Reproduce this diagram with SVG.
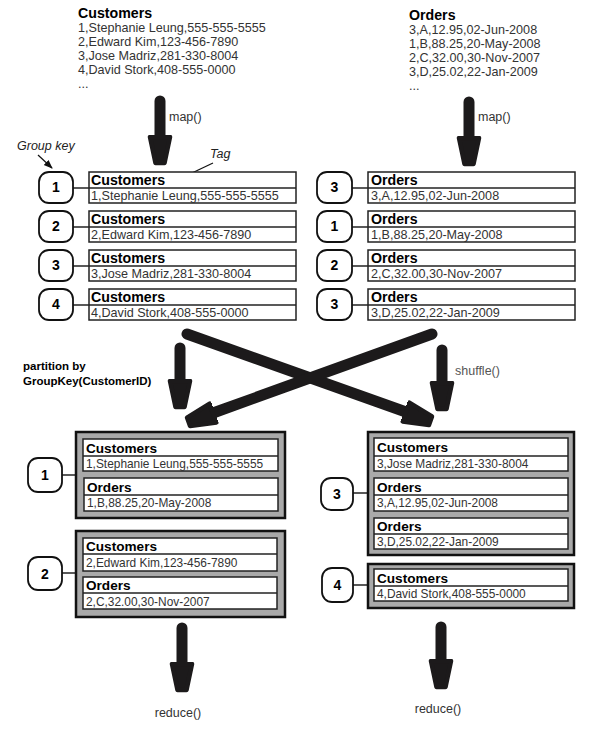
<svg xmlns="http://www.w3.org/2000/svg" width="615" height="729" viewBox="0 0 615 729">
<style>
  .hdr{font-family:"Liberation Sans",Arial,sans-serif;font-weight:bold;font-size:14.2px;fill:#000}
  .dat{font-family:"Liberation Sans",Arial,sans-serif;font-size:12.6px;fill:#333}
  .g .hdr{font-size:13.6px}
  .g .dat{font-size:11.9px}
  .lbl{font-family:"Liberation Sans",Arial,sans-serif;font-size:12.5px;fill:#333}
  .ital{font-family:"Liberation Sans",Arial,sans-serif;font-style:italic;font-size:12.5px;fill:#222}
  .part{font-family:"Liberation Sans",Arial,sans-serif;font-weight:bold;font-size:11.5px;fill:#000}
  .num{font-family:"Liberation Sans",Arial,sans-serif;font-weight:bold;font-size:14px;fill:#000;text-anchor:middle}
  .rec{fill:#fff;stroke:#222;stroke-width:1.5}
  .div{stroke:#222;stroke-width:1.3}
  .key{fill:#fff;stroke:#111;stroke-width:1.8}
  .grp{fill:#a9a9a9;stroke:#111;stroke-width:2.5}
  .link{stroke:#222;stroke-width:1.5;fill:none}
  .big{stroke:#1c1a1b;stroke-width:11;stroke-linecap:round;fill:none;marker-end:url(#head)}
  .thin{stroke:#111;stroke-width:1.2;fill:none;marker-end:url(#small)}
</style>
<defs>
  <marker id="head" markerUnits="userSpaceOnUse" viewBox="0 -16 34 32" markerWidth="34" markerHeight="32" refX="2" refY="0" orient="auto">
    <polygon points="2,-10 28,-4.5 28,4.5 2,10" fill="#1c1a1b" stroke="#1c1a1b" stroke-width="4.5" stroke-linejoin="round"/>
  </marker>
  <marker id="small" markerUnits="userSpaceOnUse" viewBox="0 -4 9 8" markerWidth="9" markerHeight="8" refX="8" refY="0" orient="auto">
    <polygon points="0,-3.5 9,0 0,3.5" fill="#111"/>
  </marker>
</defs>
<rect width="615" height="729" fill="#fff"/>

<!-- Input data -->
<g id="customers-input">
  <text class="hdr" x="78" y="18">Customers</text>
  <text class="dat" x="78" y="32">1,Stephanie Leung,555-555-5555</text>
  <text class="dat" x="78" y="46">2,Edward Kim,123-456-7890</text>
  <text class="dat" x="78" y="60">3,Jose Madriz,281-330-8004</text>
  <text class="dat" x="78" y="74">4,David Stork,408-555-0000</text>
  <text class="dat" x="78" y="88">...</text>
</g>
<g id="orders-input">
  <text class="hdr" x="409" y="20">Orders</text>
  <text class="dat" x="409" y="34">3,A,12.95,02-Jun-2008</text>
  <text class="dat" x="409" y="48">1,B,88.25,20-May-2008</text>
  <text class="dat" x="409" y="62">2,C,32.00,30-Nov-2007</text>
  <text class="dat" x="409" y="76">3,D,25.02,22-Jan-2009</text>
  <text class="dat" x="409" y="90">...</text>
</g>

<g id="annotations">
  <text class="ital" x="17" y="150">Group key</text>
  <text class="ital" x="210" y="158">Tag</text>
  <text class="lbl" x="169" y="121">map()</text>
  <text class="lbl" x="478" y="121">map()</text>
  <text class="part" x="23" y="370">partition by</text>
  <text class="part" x="23" y="385">GroupKey(CustomerID)</text>
  <text class="lbl" x="455" y="375" style="fill:#555">shuffle()</text>
  <text class="lbl" x="178" y="717" text-anchor="middle">reduce()</text>
  <text class="lbl" x="438" y="713" text-anchor="middle">reduce()</text>
</g>

<!-- Connectors -->
<g id="connectors">
  <line class="big" x1="160" y1="101" x2="160" y2="137"/>
  <line class="big" x1="469" y1="102" x2="469" y2="138"/>
  <line class="big" x1="180" y1="348" x2="180" y2="381"/>
  <line class="big" x1="442" y1="350" x2="442" y2="383"/>
  <line class="big" x1="187" y1="334" x2="406" y2="412"/>
  <line class="big" x1="432" y1="334" x2="213" y2="413"/>
  <line class="big" x1="182" y1="628" x2="182" y2="664"/>
  <line class="big" x1="441" y1="627" x2="441" y2="661"/>
  <line class="thin" x1="38" y1="155" x2="52" y2="168"/>
  <line class="thin" x1="213" y1="163" x2="175" y2="181"/>
  <line class="link" x1="73" y1="188" x2="89" y2="188"/>
  <line class="link" x1="73" y1="227" x2="89" y2="227"/>
  <line class="link" x1="73" y1="266" x2="89" y2="266"/>
  <line class="link" x1="73" y1="305" x2="89" y2="305"/>
  <line class="link" x1="352" y1="188" x2="368" y2="188"/>
  <line class="link" x1="352" y1="227" x2="368" y2="227"/>
  <line class="link" x1="352" y1="266" x2="368" y2="266"/>
  <line class="link" x1="352" y1="305" x2="368" y2="305"/>
  <line class="link" x1="62" y1="475" x2="76" y2="475"/>
  <line class="link" x1="62" y1="573" x2="76" y2="573"/>
  <line class="link" x1="353" y1="493" x2="368" y2="493"/>
  <line class="link" x1="353" y1="585" x2="368" y2="585"/>
</g>

<!-- Mapped customer records -->
<g id="map-c1">
  <rect class="key" x="39" y="172" width="34" height="31" rx="10"/><text class="num" x="56" y="192">1</text>
  <rect class="rec" x="89" y="172" width="207" height="31"/><line class="div" x1="89" y1="188" x2="296" y2="188"/>
  <text class="hdr" x="91" y="185">Customers</text><text class="dat" x="91" y="200">1,Stephanie Leung,555-555-5555</text>
</g>
<g id="map-c2">
  <rect class="key" x="39" y="211" width="34" height="31" rx="10"/><text class="num" x="56" y="231">2</text>
  <rect class="rec" x="89" y="211" width="207" height="31"/><line class="div" x1="89" y1="227" x2="296" y2="227"/>
  <text class="hdr" x="91" y="224">Customers</text><text class="dat" x="91" y="239">2,Edward Kim,123-456-7890</text>
</g>
<g id="map-c3">
  <rect class="key" x="39" y="250" width="34" height="31" rx="10"/><text class="num" x="56" y="270">3</text>
  <rect class="rec" x="89" y="250" width="207" height="31"/><line class="div" x1="89" y1="266" x2="296" y2="266"/>
  <text class="hdr" x="91" y="263">Customers</text><text class="dat" x="91" y="278">3,Jose Madriz,281-330-8004</text>
</g>
<g id="map-c4">
  <rect class="key" x="39" y="289" width="34" height="31" rx="10"/><text class="num" x="56" y="309">4</text>
  <rect class="rec" x="89" y="289" width="207" height="31"/><line class="div" x1="89" y1="305" x2="296" y2="305"/>
  <text class="hdr" x="91" y="302">Customers</text><text class="dat" x="91" y="317">4,David Stork,408-555-0000</text>
</g>

<!-- Mapped order records -->
<g id="map-o1">
  <rect class="key" x="317" y="172" width="35" height="31" rx="10"/><text class="num" x="334.5" y="192">3</text>
  <rect class="rec" x="368" y="172" width="207" height="31"/><line class="div" x1="368" y1="188" x2="575" y2="188"/>
  <text class="hdr" x="371" y="185">Orders</text><text class="dat" x="371" y="200">3,A,12.95,02-Jun-2008</text>
</g>
<g id="map-o2">
  <rect class="key" x="317" y="211" width="35" height="31" rx="10"/><text class="num" x="334.5" y="231">1</text>
  <rect class="rec" x="368" y="211" width="207" height="31"/><line class="div" x1="368" y1="227" x2="575" y2="227"/>
  <text class="hdr" x="371" y="224">Orders</text><text class="dat" x="371" y="239">1,B,88.25,20-May-2008</text>
</g>
<g id="map-o3">
  <rect class="key" x="317" y="250" width="35" height="31" rx="10"/><text class="num" x="334.5" y="270">2</text>
  <rect class="rec" x="368" y="250" width="207" height="31"/><line class="div" x1="368" y1="266" x2="575" y2="266"/>
  <text class="hdr" x="371" y="263">Orders</text><text class="dat" x="371" y="278">2,C,32.00,30-Nov-2007</text>
</g>
<g id="map-o4">
  <rect class="key" x="317" y="289" width="35" height="31" rx="10"/><text class="num" x="334.5" y="309">3</text>
  <rect class="rec" x="368" y="289" width="207" height="31"/><line class="div" x1="368" y1="305" x2="575" y2="305"/>
  <text class="hdr" x="371" y="302">Orders</text><text class="dat" x="371" y="317">3,D,25.02,22-Jan-2009</text>
</g>

<!-- Grouped records after shuffle -->
<g id="group-1" class="g">
  <rect class="key" x="28" y="458" width="34" height="34" rx="10"/><text class="num" x="45" y="480">1</text>
  <rect class="grp" x="76" y="432" width="209" height="86"/>
  <rect class="rec" x="83" y="439" width="195" height="32"/><line class="div" x1="83" y1="456" x2="278" y2="456"/>
  <text class="hdr" x="86" y="453">Customers</text><text class="dat" x="86" y="468">1,Stephanie Leung,555-555-5555</text>
  <rect class="rec" x="84" y="478" width="194" height="33"/><line class="div" x1="84" y1="495" x2="278" y2="495"/>
  <text class="hdr" x="87" y="492">Orders</text><text class="dat" x="87" y="507">1,B,88.25,20-May-2008</text>
</g>
<g id="group-2" class="g">
  <rect class="key" x="28" y="557" width="34" height="33" rx="10"/><text class="num" x="45" y="579">2</text>
  <rect class="grp" x="76" y="531" width="209" height="86"/>
  <rect class="rec" x="83" y="538" width="194" height="33"/><line class="div" x1="83" y1="554" x2="277" y2="554"/>
  <text class="hdr" x="86" y="551">Customers</text><text class="dat" x="86" y="567">2,Edward Kim,123-456-7890</text>
  <rect class="rec" x="83" y="577" width="194" height="32"/><line class="div" x1="83" y1="593" x2="277" y2="593"/>
  <text class="hdr" x="86" y="590">Orders</text><text class="dat" x="86" y="606">2,C,32.00,30-Nov-2007</text>
</g>
<g id="group-3" class="g">
  <rect class="key" x="321" y="478" width="32" height="32" rx="10"/><text class="num" x="337" y="499">3</text>
  <rect class="grp" x="368" y="432" width="206" height="123"/>
  <rect class="rec" x="374" y="438" width="194" height="33"/><line class="div" x1="374" y1="456" x2="568" y2="456"/>
  <text class="hdr" x="377" y="452">Customers</text><text class="dat" x="377" y="468">3,Jose Madriz,281-330-8004</text>
  <rect class="rec" x="374" y="478" width="194" height="33"/><line class="div" x1="374" y1="495" x2="568" y2="495"/>
  <text class="hdr" x="377" y="492">Orders</text><text class="dat" x="377" y="507">3,A,12.95,02-Jun-2008</text>
  <rect class="rec" x="374" y="518" width="194" height="31"/><line class="div" x1="374" y1="534" x2="568" y2="534"/>
  <text class="hdr" x="377" y="531">Orders</text><text class="dat" x="377" y="546">3,D,25.02,22-Jan-2009</text>
</g>
<g id="group-4" class="g">
  <rect class="key" x="322" y="568" width="31" height="34" rx="10"/><text class="num" x="337.5" y="590">4</text>
  <rect class="grp" x="368" y="564" width="206" height="44"/>
  <rect class="rec" x="374" y="569" width="194" height="32"/><line class="div" x1="374" y1="586" x2="568" y2="586"/>
  <text class="hdr" x="377" y="583">Customers</text><text class="dat" x="377" y="598">4,David Stork,408-555-0000</text>
</g>
</svg>
